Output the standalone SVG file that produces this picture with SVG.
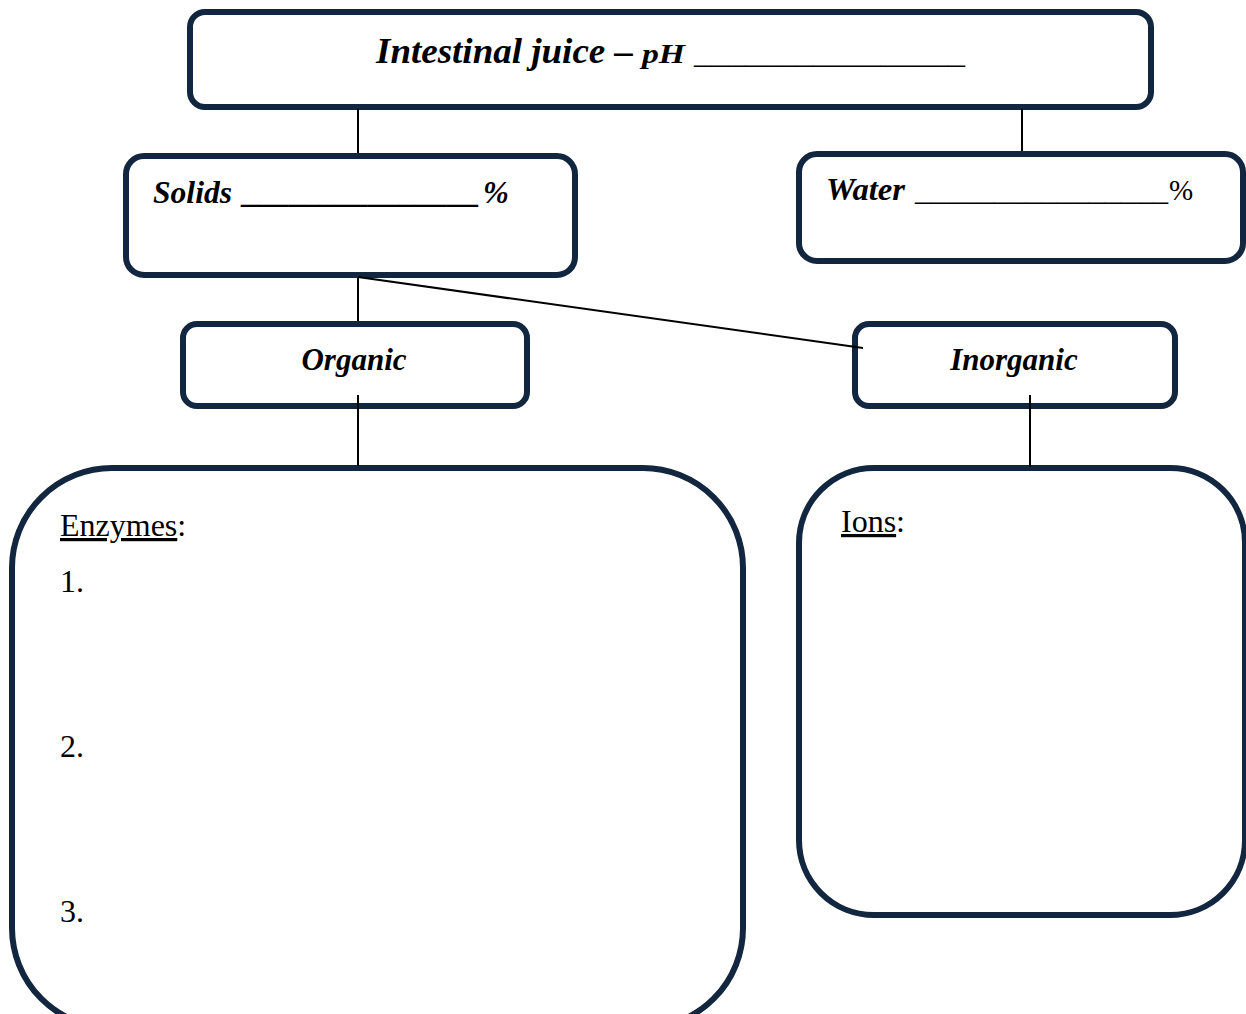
<svg xmlns="http://www.w3.org/2000/svg" width="1246" height="1014" viewBox="0 0 1246 1014">
<style>
.box{fill:#fff;stroke:#13263f;stroke-width:6}
.con{stroke:#000;stroke-width:2;fill:none}
.bi{font-family:"Liberation Serif","Times New Roman",serif;font-weight:bold;font-style:italic;fill:#000}
.rg{font-family:"Liberation Serif","Times New Roman",serif;fill:#000}
</style>
<rect width="1246" height="1014" fill="#fff"/>
<g id="title">
<rect class="box" x="190" y="12" width="961" height="95" rx="15"/>
<text class="bi" x="376" y="63" font-size="36"><tspan textLength="257" lengthAdjust="spacingAndGlyphs">Intestinal juice –</tspan><tspan font-size="27" x="642" textLength="43" lengthAdjust="spacingAndGlyphs">pH</tspan><tspan x="694" font-size="32" font-style="normal" font-weight="normal" textLength="271" lengthAdjust="spacingAndGlyphs">________________</tspan></text>
</g>
<g id="solids">
<rect class="box" x="126" y="156" width="449" height="119" rx="18"/>
<text class="bi" x="153" y="203" font-size="31"><tspan textLength="79" lengthAdjust="spacingAndGlyphs">Solids</tspan><tspan x="243" textLength="237" lengthAdjust="spacingAndGlyphs">_______________</tspan><tspan x="483">%</tspan></text>
</g>
<g id="water">
<rect class="box" x="799" y="154" width="444" height="107" rx="18"/>
<text class="bi" x="826" y="200" font-size="31"><tspan textLength="79" lengthAdjust="spacingAndGlyphs">Water</tspan><tspan x="915" font-style="normal" font-weight="normal" textLength="253" lengthAdjust="spacingAndGlyphs">________________</tspan><tspan x="1169" font-style="normal" font-weight="normal" font-size="29">%</tspan></text>
</g>
<g id="organic">
<rect class="box" x="183" y="324" width="344" height="82" rx="14"/>
<text class="bi" x="354" y="370" font-size="31" text-anchor="middle">Organic</text>
</g>
<g id="inorganic">
<rect class="box" x="855" y="324" width="320" height="82" rx="14"/>
<text class="bi" x="1014" y="370" font-size="31" text-anchor="middle">Inorganic</text>
</g>
<g id="enzymes">
<rect class="box" x="12" y="468" width="731" height="560" rx="100"/>
<text class="rg" x="60" y="536" font-size="32"><tspan text-decoration="underline">Enzymes</tspan>:</text>
<text class="rg" x="60" y="592" font-size="32">1.</text>
<text class="rg" x="60" y="757" font-size="32">2.</text>
<text class="rg" x="60" y="922" font-size="32">3.</text>
</g>
<g id="ions">
<rect class="box" x="799" y="468" width="446" height="447" rx="75"/>
<text class="rg" x="841" y="532" font-size="32"><tspan text-decoration="underline">Ions</tspan>:</text>
</g>
<g id="connectors">
<line class="con" x1="358" y1="109" x2="358" y2="153"/>
<line class="con" x1="1022" y1="109" x2="1022" y2="151"/>
<line class="con" x1="358" y1="278" x2="358" y2="321"/>
<line class="con" x1="358" y1="277" x2="863" y2="348"/>
<line class="con" x1="358" y1="395" x2="358" y2="466"/>
<line class="con" x1="1030" y1="395" x2="1030" y2="467"/>
</g>
</svg>
